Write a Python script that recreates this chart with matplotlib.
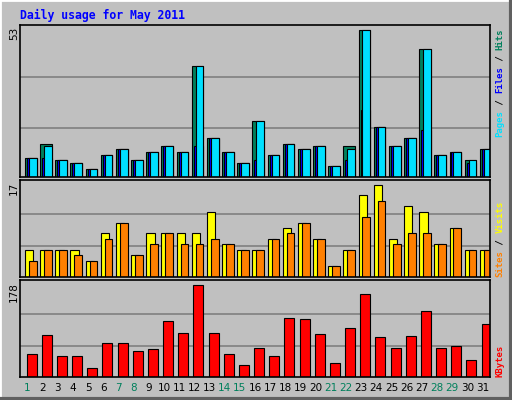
import matplotlib
matplotlib.use("Agg")
import matplotlib.pyplot as plt
from matplotlib.patches import Rectangle
import numpy as np

days = list(range(1, 32))
hits = [7, 12, 6, 5, 3, 8, 10, 6, 9, 11, 9, 40, 14, 9, 5, 20, 8, 12, 10, 11, 4, 11, 53, 18, 11, 14, 46, 8, 9, 6, 10]
files = [7, 7, 6, 5, 3, 8, 10, 6, 9, 11, 9, 11, 14, 9, 5, 6, 8, 12, 10, 11, 4, 6, 24, 18, 11, 14, 17, 8, 9, 5, 10]
pages = [7, 11, 6, 5, 3, 8, 10, 6, 9, 11, 9, 40, 14, 9, 5, 20, 8, 12, 10, 11, 4, 10, 53, 18, 11, 14, 46, 8, 9, 6, 10]
visits = [5, 5, 5, 5, 3, 8, 10, 4, 8, 8, 8, 8, 12, 6, 5, 5, 7, 9, 10, 7, 2, 5, 15, 17, 7, 13, 12, 6, 9, 5, 5]
sites = [3, 5, 5, 4, 3, 7, 10, 4, 6, 8, 6, 6, 7, 6, 5, 5, 7, 8, 10, 7, 2, 5, 11, 14, 6, 8, 8, 6, 9, 5, 5]
kbytes = [43.5, 80.6, 39.6, 39.6, 18.2, 65.6, 65.6, 49.4, 53.3, 107.8, 84.5, 178, 84.5, 43.5, 24, 55.2,
          39.6, 113.7, 111.7, 82.5, 26, 94.2, 160.5, 76.7, 55.2, 78.6, 127.3, 55.2, 59.1, 31.8, 102]
weekend = [1, 7, 8, 14, 15, 21, 22, 28, 29]

W, H = 512, 400
BG = "#C0C0C0"
fig = plt.figure(figsize=(W / 100, H / 100), dpi=100, facecolor=BG)

def fx(px): return px / W
def fy(py): return 1 - py / H

# 3D outer border
fig.add_artist(Rectangle((0, 0), 1, 1, transform=fig.transFigure, fill=False, edgecolor="white", lw=2))
fig.add_artist(plt.Line2D([fx(1), fx(511)], [fy(399), fy(399)], transform=fig.transFigure, color="#606060", lw=3))
fig.add_artist(plt.Line2D([fx(511), fx(511)], [fy(1), fy(399)], transform=fig.transFigure, color="#606060", lw=3))

L, R = 20, 490
panels = [(25, 177), (180, 277), (280, 377)]

def make_ax(t, b, vmax):
    ax = fig.add_axes([fx(L), fy(b), fx(R) - fx(L), (b - t) / H])
    ax.set_facecolor(BG)
    ax.set_xlim(0.5, 31.5)
    h = b - t
    ax.set_ylim(0, vmax * h / (h - 4.5))
    for f in (0.33, 0.68):
        ax.axhline(vmax * f, color="#808080", lw=1.2, zorder=0)
    ax.set_xticks([]); ax.set_yticks([])
    for s in ax.spines.values():
        s.set_color("black"); s.set_linewidth(1.2)
    return ax

d = np.array(days)
ek = dict(edgecolor="black", linewidth=0.8, align="edge")

ax1 = make_ax(*panels[0], max(hits))
ax1.bar(d - 0.17, hits, 0.77, color="#00805C", **ek)
ax1.bar(d - 0.04, files, 0.64, color="#0000FF", **ek)
ax1.bar(d + 0.09, pages, 0.51, color="#00E0FF", **ek)

ax2 = make_ax(*panels[1], max(visits))
ax2.bar(d - 0.17, visits, 0.55, color="#FFFF00", **ek)
ax2.bar(d + 0.09, sites, 0.51, color="#FF8000", **ek)

ax3 = make_ax(*panels[2], max(kbytes))
ax3.bar(d - 0.06, kbytes, 0.66, color="#FF0000", **ek)
ax3.set_xticks(days)
ax3.set_xticklabels([str(x) for x in days], fontsize=7.5)
ax3.tick_params(axis="x", length=0, pad=4)
for lab, x in zip(ax3.get_xticklabels(), days):
    lab.set_color("#00805C" if x in weekend else "black")

# title
fig.text(fx(20), fy(15), "Daily usage for May 2011", color="#0000FF", fontsize=8.3,
         fontweight="bold", family="DejaVu Sans Mono", va="center", ha="left")

# max labels
for lbl, (t, b) in zip([str(max(hits)), str(max(visits)), str(int(max(kbytes)))], panels):
    fig.text(fx(14), fy(t + 2), lbl, rotation=90, fontsize=7.5, ha="center", va="top")

# right-side multicolored rotated labels
CW = 5.45
def vlabel(pieces, x, ybottom):
    i = 0
    for txt, col in pieces:
        fig.text(fx(x), fy(ybottom - i * CW), txt, color=col, rotation=90, rotation_mode="anchor",
                 ha="left", va="center", fontsize=6.5, family="DejaVu Sans Mono", fontweight="bold")
        i += len(txt)

vlabel([("Pages", "#00E0FF"), (" / ", "black"), ("Files", "#0000FF"), (" / ", "black"), ("Hits", "#00805C")], 500, 137)
vlabel([("Sites", "#FF8000"), (" / ", "black"), ("Visits", "#FFFF00")], 500, 277)
vlabel([("KBytes", "#FF0000")], 500, 377)

fig.savefig("out.png", dpi=100, facecolor=BG)
